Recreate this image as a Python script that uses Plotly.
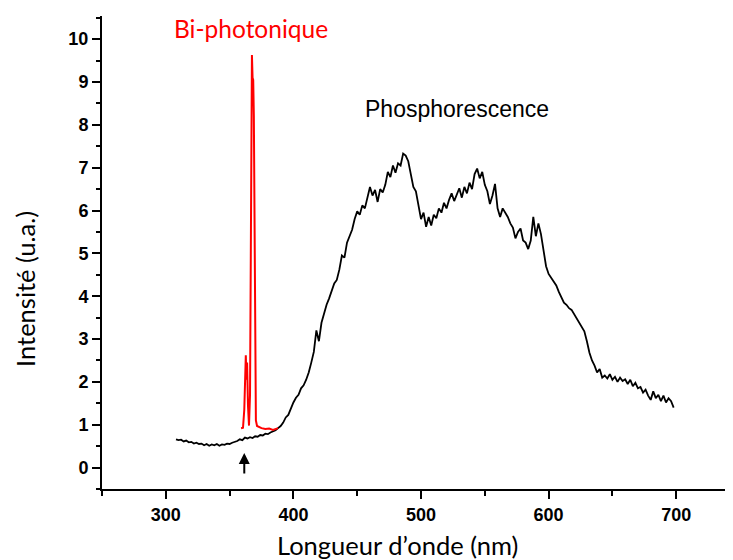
import plotly.graph_objects as go

# ---- data ----
black_x = list(range(308, 700, 2))
black_y = [
    0.66, 0.64, 0.65, 0.61, 0.63, 0.59, 0.60, 0.56, 0.58, 0.55,
    0.56, 0.52, 0.55, 0.51, 0.54, 0.52, 0.55, 0.51, 0.54, 0.53,
    0.56, 0.55, 0.58, 0.60, 0.62, 0.66, 0.64, 0.70, 0.68, 0.71,
    0.69, 0.73, 0.72, 0.76, 0.75, 0.79, 0.78, 0.82, 0.84, 0.87,
    0.92, 0.97, 1.05, 1.17, 1.23, 1.40, 1.52, 1.63, 1.70, 1.85,
    1.92, 2.05, 2.22, 2.45, 2.70, 3.20, 2.95, 3.38, 3.60, 3.80,
    3.95, 4.12, 4.30, 4.38, 4.62, 4.95, 4.90, 5.25, 5.38, 5.55,
    5.80, 5.98, 5.90, 6.12, 6.05, 6.30, 6.55, 6.35, 6.48, 6.20,
    6.50, 6.42, 6.60, 6.90, 6.78, 7.05, 6.88, 7.10, 7.05, 7.33,
    7.28, 7.15, 6.85, 6.55, 6.45, 6.10, 5.80, 5.95, 5.62, 5.85,
    5.65, 5.90, 5.82, 6.05, 5.95, 6.18, 6.05, 6.25, 6.40, 6.22,
    6.35, 6.52, 6.30, 6.55, 6.40, 6.65, 6.50, 6.85, 6.98, 6.75,
    6.90, 6.60, 6.45, 6.15, 6.35, 6.62, 6.05, 5.85, 6.05, 5.95,
    5.85, 5.70, 5.60, 5.35, 5.50, 5.58, 5.30, 5.25, 5.10, 5.30,
    5.85, 5.40, 5.70, 5.45, 5.05, 4.70, 4.52, 4.42, 4.35, 4.25,
    4.10, 3.98, 3.85, 3.80, 3.72, 3.68, 3.58, 3.48, 3.38, 3.28,
    3.18, 2.95, 2.68, 2.50, 2.38, 2.22, 2.30, 2.10, 2.15, 2.08,
    2.18, 2.05, 2.12, 2.00, 2.10, 2.02, 2.06, 1.95, 2.05, 1.90,
    1.98, 1.85, 1.88, 1.75, 1.82, 1.68, 1.58, 1.78, 1.62, 1.70,
    1.55, 1.68, 1.52, 1.62, 1.55, 1.40,
]

red_x = [359.0, 360.5, 361.5, 362.2, 362.7, 363.2, 363.7, 364.4, 365.2, 366.0,
         366.6, 367.1, 367.5, 368.0, 368.5, 369.0, 369.5, 370.0, 370.6, 371.5,
         373.0, 375.0, 378.0, 381.0, 384.0, 386.5, 388.0]
red_y = [0.92, 0.93, 1.35, 2.25, 2.62, 2.05, 2.45, 1.45, 0.98, 1.70,
         5.20, 8.60, 9.63, 9.10, 9.05, 8.20, 5.00, 2.00, 1.10, 0.97,
         0.94, 0.92, 0.90, 0.91, 0.88, 0.90, 0.92]

y_ticks = list(range(0, 11))
x_ticks = [300, 400, 500, 600, 700]

fig = go.Figure()
fig.add_trace(go.Scatter(x=black_x, y=black_y, mode="lines",
                         line=dict(color="black", width=1.8), showlegend=False))
fig.add_trace(go.Scatter(x=red_x, y=red_y, mode="lines",
                         line=dict(color="#ff0000", width=2), showlegend=False))

tickfont = dict(family="Liberation Sans, Arial", size=18, color="black", weight="bold")

# the page body adds an 8px offset, so the figure is sized to fill the visible window
fig.update_layout(
    width=725, height=552, autosize=False,
    margin=dict(l=94, r=0, t=8, b=71),
    paper_bgcolor="white", plot_bgcolor="white",
    xaxis=dict(range=[250, 744.5], tickvals=x_ticks, ticks="outside", ticklen=8,
               tickwidth=2, tickcolor="black", showline=True, linewidth=2,
               linecolor="black", showgrid=False, zeroline=False, tickfont=tickfont,
               minor=dict(tick0=250, dtick=50, ticks="outside", ticklen=5,
                          tickwidth=2, tickcolor="black")),
    yaxis=dict(range=[-0.5, 10.54], tickvals=y_ticks, ticks="outside", ticklen=8,
               tickwidth=2, tickcolor="black", showline=True, linewidth=2,
               linecolor="black", showgrid=False, zeroline=False, tickfont=tickfont,
               minor=dict(tick0=0, dtick=0.5, ticks="outside", ticklen=4,
                          tickwidth=2, tickcolor="black")),
)

title_font = dict(family="Lato, Open Sans", size=25.5, color="black")
fig.add_annotation(text="Longueur d\u2019onde (nm)", xref="paper", yref="paper",
                   x=0.469, y=-0.1175, xanchor="center", yanchor="middle",
                   showarrow=False, font=title_font)
fig.add_annotation(text="Intensité (u.a.)", xref="paper", yref="paper",
                   x=-0.1212, y=0.422, xanchor="center", yanchor="middle",
                   textangle=-90, showarrow=False, font=title_font)
fig.add_annotation(text="Bi-photonique", x=366.8, y=10.24, xanchor="center",
                   yanchor="middle", showarrow=False,
                   font=dict(family="Lato, Open Sans", size=24.5, color="#ff0000"))
fig.add_annotation(text="Phosphorescence", x=528.4, y=8.37, xanchor="center",
                   yanchor="middle", showarrow=False,
                   font=dict(family="Liberation Sans, Arial", size=23, color="black"))
fig.add_annotation(text="", x=361.5, y=0.34, ax=0, ay=22, showarrow=True,
                   arrowhead=2, arrowsize=1.1, arrowwidth=2, arrowcolor="black",
                   standoff=0)

fig.write_html("out.html")
